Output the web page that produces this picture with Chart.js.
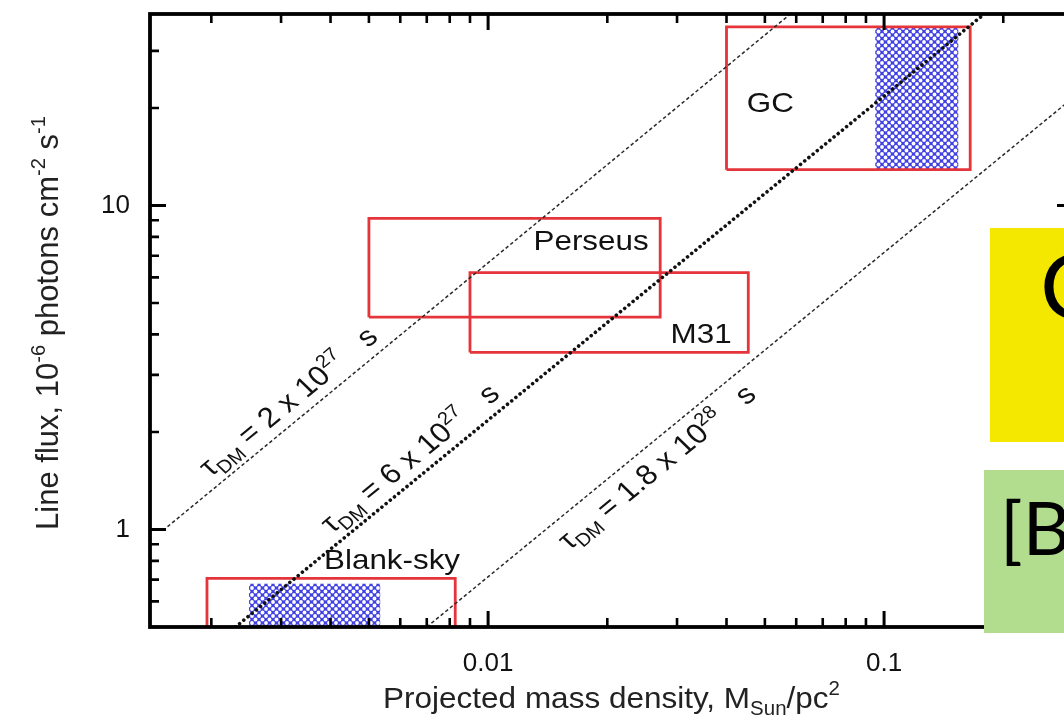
<!DOCTYPE html>
<html>
<head>
<meta charset="utf-8">
<script src="https://cdn.jsdelivr.net/npm/chart.js@4.4.1/dist/chart.umd.min.js"></script>
<style>
  html, body { margin: 0; padding: 0; background: #fff; overflow: hidden; }
  #stage { position: relative; width: 1064px; height: 724px; overflow: hidden; }
  #plot { position: absolute; left: 0; top: 0; width: 1090px; height: 724px; }
  .note { position: absolute; overflow: hidden; font-family: Lato, "Open Sans", sans-serif; color: #000; }
  #noteA { left: 990px; top: 228px; width: 90px; height: 214px; background: #f4e800; }
  #noteB { left: 984px; top: 470px; width: 96px; height: 163px; background: #b2dc8e; }
  .note span { position: absolute; line-height: 1; white-space: nowrap; }
</style>
</head>
<body>
<div id="stage">
  <canvas id="plot" width="1090" height="724"></canvas>
  <div class="note" id="noteA"><span style="left:50px;top:10px;font-size:92px;">C</span></div>
  <div class="note" id="noteB"><span style="left:16px;top:20px;font-size:74px;">[B</span></div>
</div>
<script>
// Axis ranges and tick values
const xLimits = [0.0014, 0.3];
const yLimits = [0.5, 39];
const xMajorTicks = [0.01, 0.1];
const xMinorTicks = [0.002, 0.003, 0.004, 0.005, 0.006, 0.007, 0.008, 0.009,
                     0.02, 0.03, 0.04, 0.05, 0.06, 0.07, 0.08, 0.09, 0.2, 0.3];
const yMajorTicks = [1, 10];
const yMinorTicks = [0.5, 0.6, 0.7, 0.8, 0.9, 2, 3, 4, 5, 6, 7, 8, 9, 20, 30];

// Observed regions: projected mass density range and line flux range
const regionNames = ['GC', 'Perseus', 'M31', 'Blank-sky'];
const regionX = [[0.040, 0.165], [0.0050, 0.0272], [0.0090, 0.0454], [0.00195, 0.00826]];
const regionY = [[12.9, 35.6], [4.52, 9.12], [3.52, 6.21], [0.45, 0.706]];

// Hatched sub-ranges (GC and blank-sky)
const hatchX = [[0.095, 0.154], [0.00249, 0.00534]];
const hatchY = [[12.9, 35.6], [0.45, 0.68]];

// Constant-lifetime lines (flux proportional to mass density)
const lifetimeMantissa = ['2', '6', '1.8'];
const lifetimeExponent = ['27', '27', '28'];
const lifetimeX = [[0.00155, 0.058], [0.0023, 0.179], [0.007, 0.3]];
const lifetimeY = [[1.02, 39], [0.5, 39], [0.5, 21.5]];

// Label placement (layout only)
const regionLabelAt = [[0.0516, 20.5], [0.0182, 7.69], [0.0345, 3.97], [0.00572, 0.797]];
const lifetimeLabelAtX = [0.0034, 0.0069, 0.0243];
const lifetimeLabelShift = [-10, -10, 30];

const FONT = '"Liberation Sans", Arial, Helvetica, sans-serif';
const TEXT_SX = 1.12;   // horizontal widening of the in-plot lettering

function boxPath(xr, yr) {
  return [
    { x: xr[0], y: yr[0] }, { x: xr[1], y: yr[0] },
    { x: xr[1], y: yr[1] }, { x: xr[0], y: yr[1] }, { x: xr[0], y: yr[0] }
  ];
}

const canvas = document.getElementById('plot');
const ctx0 = canvas.getContext('2d');

function hatchPattern() {
  const t = document.createElement('canvas');
  t.width = 7; t.height = 7;
  const g = t.getContext('2d');
  g.fillStyle = '#4242e2';
  g.fillRect(0, 0, 7, 7);
  g.fillStyle = '#ffffff';
  [[0, 0], [7, 0], [0, 7], [7, 7], [3.5, 3.5]].forEach(([cx, cy]) => {
    g.beginPath(); g.arc(cx, cy, 1.9, 0, Math.PI * 2); g.fill();
  });
  return ctx0.createPattern(t, 'repeat');
}
const hatch = hatchPattern();

// Rich text: parts are [text, mode] with mode 0 normal, 1 superscript, 2 subscript
function richWidth(ctx, parts, size) {
  let w = 0;
  parts.forEach(([t, m]) => {
    const s = m ? size * 0.65 : size;
    ctx.font = s + 'px ' + FONT;
    w += ctx.measureText(t).width;
  });
  return w;
}
function drawRich(ctx, parts, size) {
  const total = richWidth(ctx, parts, size);
  let x = -total / 2;
  ctx.textAlign = 'left';
  ctx.textBaseline = 'alphabetic';
  parts.forEach(([t, m]) => {
    const s = m ? size * 0.65 : size;
    ctx.font = s + 'px ' + FONT;
    const dy = m === 1 ? -size * 0.42 : (m === 2 ? size * 0.22 : 0);
    ctx.fillText(t, x, dy);
    x += ctx.measureText(t).width;
  });
}

const datasets = [];
lifetimeX.forEach((xs, i) => {
  const bold = i === 1;
  datasets.push({
    label: 'tau ' + lifetimeMantissa[i] + 'e' + lifetimeExponent[i],
    data: xs.map((x, j) => ({ x: x, y: lifetimeY[i][j] })),
    showLine: true, pointRadius: 0, fill: false,
    borderColor: bold ? '#111' : '#2a2a2a',
    borderWidth: bold ? 3.6 : 1.5,
    borderDash: bold ? [0.01, 5.4] : [3.5, 2.5],
    borderCapStyle: bold ? 'round' : 'butt'
  });
});
regionNames.forEach((n, i) => {
  datasets.push({
    label: n, data: boxPath(regionX[i], regionY[i]),
    showLine: true, pointRadius: 0, fill: false,
    borderColor: '#e5343a', borderWidth: 2.8
  });
});
hatchX.forEach((xs, i) => {
  datasets.push({
    label: 'hatch ' + i, data: boxPath(xs, hatchY[i]),
    showLine: true, pointRadius: 0, fill: 'shape',
    borderColor: 'rgba(0,0,0,0)', borderWidth: 0, backgroundColor: hatch
  });
});

const framePlugin = {
  id: 'frame',
  afterDatasetsDraw(chart) {
    const { ctx, chartArea: a, scales: { x, y } } = chart;
    ctx.save();
    ctx.strokeStyle = '#000';
    ctx.lineCap = 'butt';
    const vt = (v, len, w) => {
      const p = x.getPixelForValue(v);
      ctx.lineWidth = w;
      ctx.beginPath();
      ctx.moveTo(p, a.bottom); ctx.lineTo(p, a.bottom - len);
      ctx.moveTo(p, a.top); ctx.lineTo(p, a.top + len);
      ctx.stroke();
    };
    const ht = (v, len, w) => {
      const p = y.getPixelForValue(v);
      ctx.lineWidth = w;
      ctx.beginPath();
      ctx.moveTo(a.left, p); ctx.lineTo(a.left + len, p);
      ctx.moveTo(a.right, p); ctx.lineTo(a.right - len, p);
      ctx.stroke();
    };
    xMinorTicks.forEach(v => vt(v, 9, 2.6));
    xMajorTicks.forEach(v => vt(v, 16, 3));
    yMinorTicks.forEach(v => ht(v, 9, 2.6));
    yMajorTicks.forEach(v => ht(v, 16, 3));
    ctx.lineWidth = 3.8;
    ctx.strokeRect(a.left, a.top, a.right - a.left, a.bottom - a.top);
    ctx.restore();
  }
};

const textPlugin = {
  id: 'texts',
  afterDraw(chart) {
    const { ctx, chartArea: a, scales: { x, y } } = chart;
    ctx.save();
    ctx.fillStyle = '#111';

    // region names
    ctx.textAlign = 'center';
    ctx.textBaseline = 'middle';
    regionNames.forEach((n, i) => {
      ctx.save();
      ctx.translate(x.getPixelForValue(regionLabelAt[i][0]), y.getPixelForValue(regionLabelAt[i][1]));
      ctx.scale(TEXT_SX, 1);
      ctx.font = '28px ' + FONT;
      ctx.fillText(n, 0, 0);
      ctx.restore();
    });

    // lifetime labels along each line
    lifetimeX.forEach((xs, i) => {
      const x0 = x.getPixelForValue(xs[0]), y0 = y.getPixelForValue(lifetimeY[i][0]);
      const x1 = x.getPixelForValue(xs[1]), y1 = y.getPixelForValue(lifetimeY[i][1]);
      const cx = x.getPixelForValue(lifetimeLabelAtX[i]);
      const cy = y0 + (y1 - y0) * (cx - x0) / (x1 - x0);
      ctx.save();
      ctx.translate(cx, cy);
      ctx.scale(TEXT_SX, 1);
      ctx.rotate(Math.atan2(y1 - y0, (x1 - x0) / TEXT_SX));
      ctx.translate(0, lifetimeLabelShift[i]);
      drawRich(ctx, [['\u03C4', 0], ['DM', 2], [' = ' + lifetimeMantissa[i] + ' x 10', 0],
                     [lifetimeExponent[i], 1], ['   s', 0]], 28);
      ctx.restore();
    });

    // axis titles, centred on the full plot frame
    ctx.fillStyle = '#222';
    ctx.save();
    ctx.translate((a.left + a.right) / 2, 708);
    ctx.scale(1.05, 1);
    drawRich(ctx, [['Projected mass density, M', 0], ['Sun', 2], ['/pc', 0], ['2', 1]], 30);
    ctx.restore();

    ctx.save();
    ctx.translate(58, 323);
    ctx.rotate(-Math.PI / 2);
    drawRich(ctx, [['Line flux, 10', 0], ['-6', 1], [' photons cm', 0], ['-2', 1], [' s', 0], ['-1', 1]], 31);
    ctx.restore();

    ctx.restore();
  }
};

new Chart(canvas, {
  type: 'scatter',
  data: { datasets: datasets },
  options: {
    responsive: false,
    devicePixelRatio: 1,
    animation: false,
    layout: { padding: { top: 14, right: 17, left: 0, bottom: 0 } },
    plugins: { legend: { display: false }, tooltip: { enabled: false } },
    scales: {
      x: {
        type: 'logarithmic', position: 'bottom',
        min: xLimits[0], max: xLimits[1],
        afterBuildTicks: s => { s.ticks = xMajorTicks.map(v => ({ value: v })); },
        afterFit: s => { s.height = 97; s.paddingLeft = 0; s.paddingRight = 0; },
        grid: { display: false, drawTicks: false },
        border: { display: false },
        ticks: {
          color: '#111', padding: 21, maxRotation: 0, autoSkip: false,
          font: { family: FONT, size: 26 },
          callback: v => String(v)
        }
      },
      y: {
        type: 'logarithmic', position: 'left',
        min: yLimits[0], max: yLimits[1],
        afterBuildTicks: s => { s.ticks = yMajorTicks.map(v => ({ value: v })); },
        afterFit: s => { s.width = 150; s.paddingTop = 0; s.paddingBottom = 0; },
        grid: { display: false, drawTicks: false },
        border: { display: false },
        ticks: {
          color: '#111', padding: 20,
          font: { family: FONT, size: 26 },
          callback: v => String(v)
        }
      }
    }
  },
  plugins: [framePlugin, textPlugin]
});
</script>
</body>
</html>
